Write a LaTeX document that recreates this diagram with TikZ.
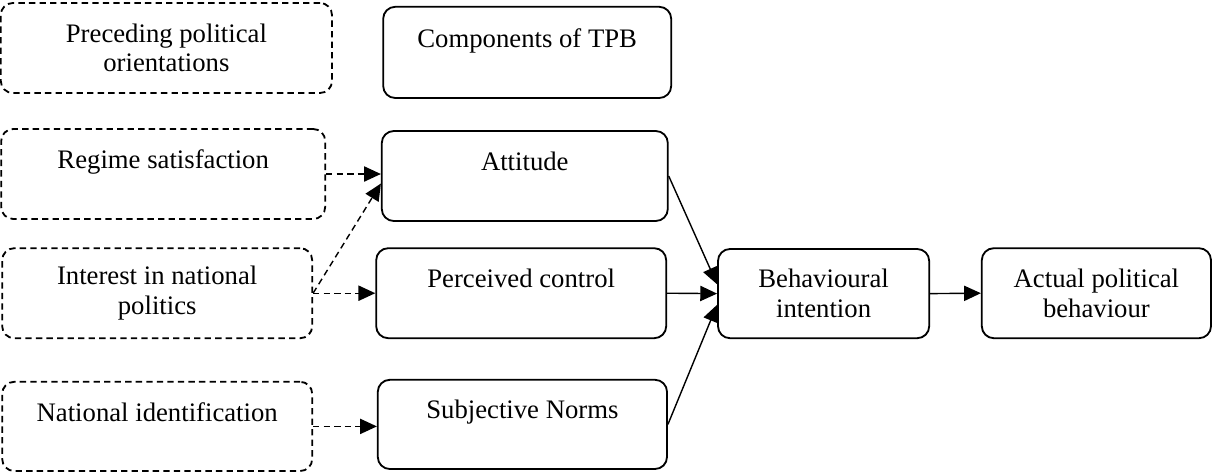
\documentclass[tikz,border=0pt]{standalone}
\usepackage{fontspec}
\setmainfont{Liberation Serif}
\usetikzlibrary{arrows.meta}

\begin{document}
\begin{tikzpicture}[
    every node/.style={rectangle, draw, rounded corners=0.3cm, line width=1.3pt, align=center, minimum height=2.25cm, inner sep=0pt, font=\fontsize{19}{21}\selectfont},
    prior/.style={dash pattern=on 4.5pt off 3pt},
    link/.style={draw, line width=1pt, -{Triangle[length=4.2mm,width=3.8mm]}},
    prior link/.style={link, dash pattern=on 4.5pt off 3pt}
]
    \fill[white] (0,0) rectangle (30.3,-11.825);
    \useasboundingbox (0,0) rectangle (30.3,-11.825);

    \node[prior, minimum width=8.28cm] (pre) at (4.16,-1.20) {Preceding political\\orientations};
    \node[prior, minimum width=8.10cm] (reg) at (4.08,-4.35) {Regime satisfaction\\~};
    \node[prior, minimum width=7.75cm] (int) at (3.93,-7.33) {Interest in national\\politics};
    \node[prior, minimum width=7.75cm, minimum height=2.23cm] (nat) at (3.93,-10.66) {National identification\\~};

    \node[minimum width=7.20cm, minimum height=2.28cm] (comp) at (13.18,-1.31) {Components of TPB\\~};
    \node[minimum width=7.15cm] (att) at (13.12,-4.40) {Attitude\\~};
    \node[minimum width=7.25cm] (per) at (13.03,-7.33) {Perceived control\\~};
    \node[minimum width=7.23cm, minimum height=2.23cm] (sub) at (13.06,-10.61) {Subjective Norms\\~};

    \node[minimum width=5.28cm, minimum height=2.23cm] (beh) at (20.59,-7.34) {Behavioural\\intention};
    \node[minimum width=5.73cm] (act) at (27.41,-7.33) {Actual political\\behaviour};

    \draw[prior link] (reg.east) -- (reg.east -| att.west);
    \draw[prior link] (int.east) -- (att.183);
    \draw[prior link] (int.east) -- (per.west);
    \draw[prior link] (nat.east) -- (nat.east -| sub.west);

    \draw[link] (att.east) -- (beh.175);
    \draw[link] (per.east) -- (beh.west);
    \draw[link] (sub.east) -- (beh.186);
    \draw[link] (beh.east) -- (act.west);
\end{tikzpicture}
\end{document}
